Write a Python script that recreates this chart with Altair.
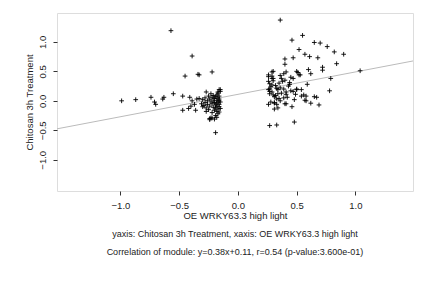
import altair as alt
import pandas as pd

# OE WRKY63.3 high light (x) vs Chitosan 3h Treatment (y)
x_left = [-0.99, -0.87, -0.74, -0.71, -0.70, -0.64, -0.63, -0.55, -0.57, -0.39, -0.45, -0.34, -0.33,
          -0.22, -0.47, -0.41, -0.47, -0.19, -0.39, -0.40, -0.42, -0.37, -0.36, -0.35, -0.27, -0.16,
          -0.17, -0.24, -0.23]
y_left = [0.00, 0.02, 0.06, -0.02, -0.06, 0.03, 0.06, 0.12, 1.19, 0.76, 0.42, 0.45, 0.44,
          0.49, 0.08, 0.06, -0.16, -0.54, 0.00, -0.09, -0.13, -0.06, -0.16, 0.03, 0.15, 0.19,
          0.15, -0.32, -0.29]

x_dense_left = [-0.33, -0.31, -0.30, -0.29, -0.28, -0.28, -0.27, -0.26, -0.26, -0.25, -0.25, -0.24,
                -0.24, -0.23, -0.23, -0.22, -0.22, -0.22, -0.21, -0.21, -0.21, -0.20, -0.20, -0.20,
                -0.19, -0.19, -0.19, -0.19, -0.18, -0.18, -0.18, -0.18, -0.18, -0.17, -0.17, -0.17,
                -0.17, -0.17, -0.16, -0.16, -0.16, -0.16, -0.16, -0.15, -0.15, -0.15, -0.15, -0.22,
                -0.20, -0.24, -0.27, -0.30, -0.18, -0.16]
y_dense_left = [0.04, -0.05, 0.02, -0.08, -0.03, 0.05, -0.12, 0.00, -0.06, 0.08, -0.15, 0.03,
                -0.09, 0.12, -0.02, -0.05, 0.06, -0.20, 0.00, -0.11, 0.09, -0.03, -0.16, 0.04,
                -0.07, 0.07, -0.25, -0.12, 0.01, -0.04, 0.10, -0.18, -0.09, 0.05, -0.02, -0.14,
                -0.22, 0.13, 0.03, -0.06, -0.10, -0.19, 0.08, 0.16, 0.19, -0.02, -0.13, -0.29,
                -0.31, -0.30, -0.18, -0.10, -0.28, 0.00]

x_right = [0.36, 0.55, 0.46, 0.65, 0.70, 0.76, 0.82, 0.90, 0.52, 0.57, 0.61, 0.68, 0.40, 0.47,
           0.40, 0.84, 0.72, 0.72, 0.60, 0.62, 0.50, 0.52, 0.51, 0.41, 0.29, 0.29, 0.26, 0.30,
           1.04, 0.79, 0.78, 0.27, 0.33, 0.48, 0.69, 0.62, 0.58, 0.57, 0.46, 0.40, 0.34, 0.31,
           0.26, 0.31, 0.67, 0.65, 0.56, 0.54, 0.59, 0.50, 0.54]
y_right = [1.37, 1.11, 1.03, 0.99, 0.98, 0.92, 0.83, 0.79, 0.87, 0.79, 0.75, 0.73, 0.71, 0.73,
           0.62, 0.63, 0.57, 0.52, 0.53, 0.46, 0.50, 0.44, 0.48, 0.49, 0.49, 0.42, 0.41, 0.38,
           0.51, 0.38, 0.17, -0.42, -0.41, -0.36, -0.07, -0.04, 0.00, 0.01, -0.10, -0.05, -0.12, -0.14,
           -0.06, -0.04, 0.06, 0.07, 0.10, 0.08, 0.28, 0.20, 0.19]

x_dense_right = [0.53, 0.47, 0.45, 0.39, 0.36, 0.37, 0.30, 0.26, 0.29, 0.30, 0.26, 0.27, 0.26, 0.27,
                 0.29, 0.27, 0.33, 0.34, 0.39, 0.41, 0.37, 0.41, 0.45, 0.47, 0.50, 0.49, 0.58, 0.31,
                 0.33, 0.36, 0.28, 0.31, 0.33, 0.39, 0.41, 0.32, 0.28, 0.35, 0.43, 0.44, 0.38, 0.30,
                 0.34, 0.42, 0.48, 0.36, 0.29, 0.32, 0.44, 0.27, 0.35, 0.40]
y_dense_right = [0.44, 0.38, 0.40, 0.46, 0.43, 0.38, 0.50, 0.44, 0.38, 0.34, 0.33, 0.29, 0.19, 0.16,
                 0.15, 0.20, 0.21, 0.19, 0.20, 0.15, 0.13, 0.11, 0.17, 0.16, 0.19, 0.11, 0.08, 0.07,
                 0.03, 0.00, -0.02, -0.03, -0.06, 0.05, -0.05, 0.26, 0.24, 0.30, 0.25, 0.31, 0.33,
                 0.10, 0.12, 0.06, 0.02, 0.22, 0.27, 0.09, 0.28, 0.12, 0.04, 0.35]

slope = 0.38
intercept = 0.11
x_domain = [-1.54, 1.49]
y_domain = [-1.53, 1.49]
ticks = [-1.0, -0.5, 0.0, 0.5, 1.0]

xs = x_left + x_dense_left + x_right + x_dense_right
ys = y_left + y_dense_left + y_right + y_dense_right
pts = pd.DataFrame({"x": xs, "y": ys})
line_df = pd.DataFrame({"x": x_domain, "y": [slope * v + intercept for v in x_domain]})

FONT = "Liberation Sans"
xscale = alt.Scale(domain=x_domain, nice=False, zero=False)
yscale = alt.Scale(domain=y_domain, nice=False, zero=False)

xaxis = alt.Axis(title="OE WRKY63.3 high light", values=ticks, format=".1f", grid=False,
                 domain=False, tickSize=4, tickColor="#333", labelPadding=5,
                 labelFont=FONT, labelFontSize=9.5, labelColor="#222",
                 titleFont=FONT, titleFontSize=9.5, titleFontWeight="normal", titleColor="#222",
                 titlePadding=1)
yaxis = alt.Axis(title="Chitosan 3h Treatment", values=ticks, format=".1f", grid=False,
                 domain=False, tickSize=4, tickColor="#333", labelPadding=6,
                 labelAngle=270, labelAlign="center", labelBaseline="bottom",
                 labelFont=FONT, labelFontSize=9.5, labelColor="#222",
                 titleFont=FONT, titleFontSize=9.5, titleFontWeight="normal", titleColor="#222",
                 titlePadding=3)

line = alt.Chart(line_df).mark_line(color="#bbbbbb", strokeWidth=1, clip=True).encode(
    x=alt.X("x:Q", scale=xscale, axis=xaxis),
    y=alt.Y("y:Q", scale=yscale, axis=yaxis),
)

points = alt.Chart(pts).mark_point(
    shape="M-1,0L1,0M0,-1L0,1", size=22, color="black", strokeWidth=0.9, filled=False, opacity=1
).encode(
    x=alt.X("x:Q", scale=xscale),
    y=alt.Y("y:Q", scale=yscale),
)

title_lines = [
    "yaxis: Chitosan 3h Treatment, xaxis: OE WRKY63.3 high light",
    "Correlation of module: y=0.38x+0.11, r=0.54 (p-value:3.600e-01)",
]

chart = alt.layer(line, points).properties(
    width=356, height=178,
    title=alt.TitleParams(text=title_lines, orient="bottom", anchor="middle", font=FONT,
                          fontSize=9, fontWeight="normal", color="#222", lineHeight=18, offset=10),
    autosize=alt.AutoSizeParams(type="none"),
    padding={"left": 57, "top": 13, "right": 19, "bottom": 97},
).configure_view(stroke="#555", strokeWidth=1).configure(background="white")

chart.save("out.html", embed_options={"renderer": "svg", "actions": False})
